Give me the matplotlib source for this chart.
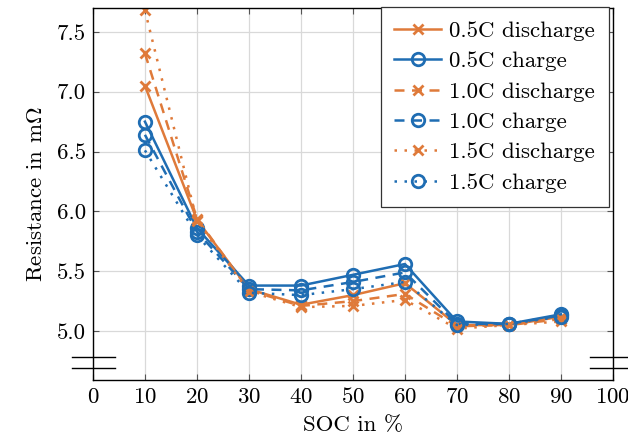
import matplotlib.pyplot as plt
import numpy as np

plt.rcParams['font.family'] = 'serif'
plt.rcParams['font.serif'] = ['cmr10']
plt.rcParams['mathtext.fontset'] = 'cm'
plt.rcParams['axes.formatter.use_mathtext'] = True

soc = [10, 20, 30, 40, 50, 60, 70, 80, 90]

dis_05 = [7.05, 5.93, 5.35, 5.22, 5.30, 5.40, 5.05, 5.05, 5.12]
chg_05 = [6.75, 5.86, 5.38, 5.38, 5.47, 5.56, 5.08, 5.06, 5.14]
dis_10 = [7.32, 5.94, 5.34, 5.21, 5.25, 5.31, 5.04, 5.05, 5.10]
chg_10 = [6.64, 5.83, 5.35, 5.34, 5.41, 5.49, 5.06, 5.06, 5.13]
dis_15 = [7.68, 5.92, 5.33, 5.20, 5.21, 5.26, 5.02, 5.05, 5.08]
chg_15 = [6.51, 5.80, 5.32, 5.30, 5.35, 5.41, 5.05, 5.06, 5.12]

labels = ['0.5C discharge', '0.5C charge', '1.0C discharge',
          '1.0C charge', '1.5C discharge', '1.5C charge']

ORANGE = '#df7a3a'
BLUE = '#1f6db3'
FS = 16.5

fig = plt.figure(figsize=(6.28, 4.43), dpi=100)
ax = fig.add_axes([0.148, 0.142, 0.828, 0.840])

series = [dis_05, chg_05, dis_10, chg_10, dis_15, chg_15]
styles = ['-', '-', (0, (4, 3)), (0, (4, 3)), (0, (1, 3)), (0, (1, 3))]
for i, (vals, lab) in enumerate(zip(series, labels)):
    discharge = i % 2 == 0
    ax.plot(soc, vals, linestyle=styles[i], lw=1.8,
            color=ORANGE if discharge else BLUE,
            marker='x' if discharge else 'o',
            mfc='none', ms=7 if discharge else 9, mew=2,
            label=lab)

ax.set_xlim(0, 100)
ax.set_ylim(4.59, 7.70)
ax.set_xticks(np.arange(0, 101, 10))
ax.set_yticks(np.arange(5.0, 7.51, 0.5))
ax.set_yticklabels(['%.1f' % v for v in np.arange(5.0, 7.51, 0.5)])
ax.grid(True, color='#d9d9d9', lw=0.9)
ax.set_axisbelow(True)
ax.tick_params(direction='in', top=True, right=True, labelsize=FS, length=4,
               color='#555555', pad=5)
for s in ax.spines.values():
    s.set_linewidth(1.0)

ax.set_xlabel('SOC in %', fontsize=FS, labelpad=6)
ax.set_ylabel(r'Resistance in m$\Omega$', fontsize=FS, labelpad=8)

# axis break marks on both sides
for yb in (4.78, 4.69):
    ax.plot([-4, 4.2], [yb, yb], color='black', lw=1.0, clip_on=False)
    ax.plot([95.6, 103], [yb, yb], color='black', lw=1.0, clip_on=False)

leg = ax.legend(loc='upper right', fontsize=FS, handlelength=2.05,
                fancybox=False, framealpha=1, edgecolor='#333333',
                borderpad=0.6, labelspacing=0.45, handletextpad=0.35,
                borderaxespad=0.0, bbox_to_anchor=(0.992, 1.002))
leg.get_frame().set_linewidth(0.9)

fig.savefig('out.png', dpi=100)
